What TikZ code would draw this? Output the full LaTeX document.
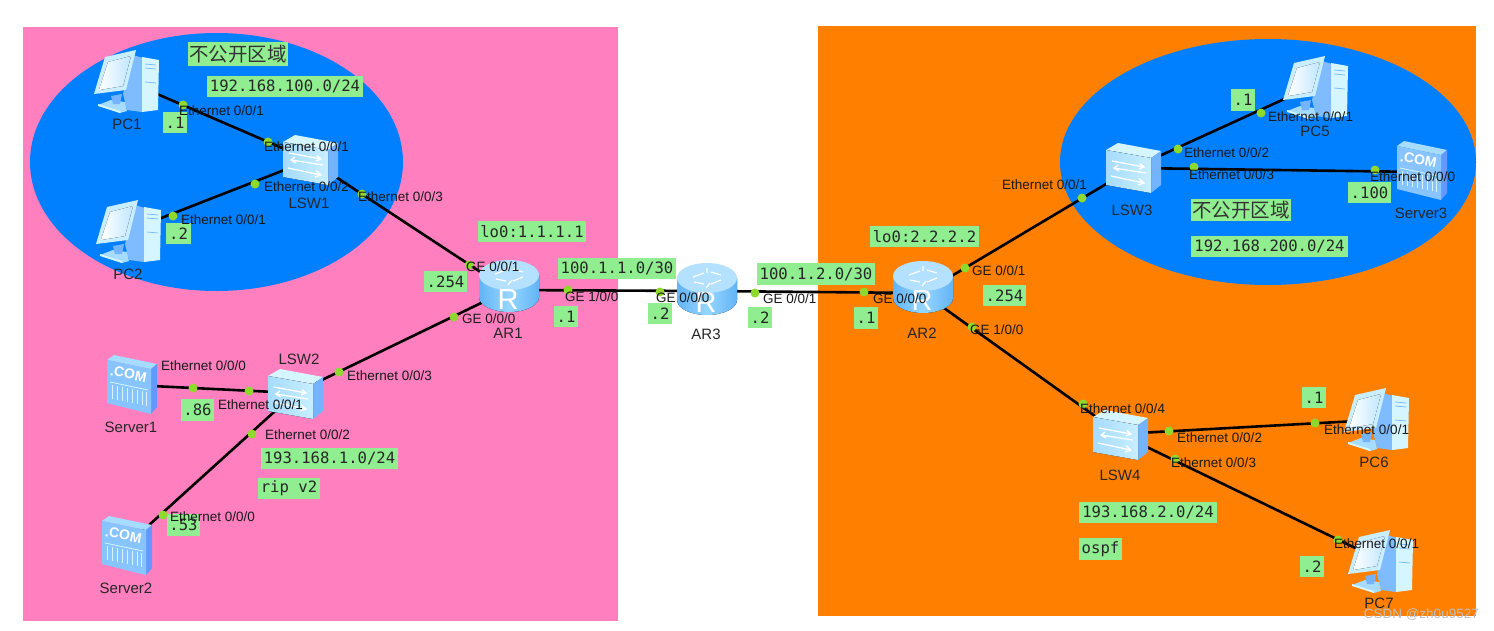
\documentclass[tikz,border=0pt]{standalone}
\usepackage{fontspec}
\usetikzlibrary{shapes.geometric}
\setmainfont{Liberation Sans}
\newfontfamily\monof{DejaVu Sans Mono}
\newfontfamily\cjkf{Noto Sans CJK SC}
\definecolor{pinkbg}{HTML}{FF7FBF}
\definecolor{orangebg}{HTML}{FF8000}
\definecolor{bluezone}{HTML}{0080FF}
\definecolor{tag}{HTML}{90EE90}
\definecolor{portdot}{HTML}{8FD82E}
\definecolor{iconlight}{HTML}{D6F6FF}
\definecolor{iconmid}{HTML}{A6DCFF}
\definecolor{icondark}{HTML}{74B4FF}
\definecolor{routerside}{HTML}{62B4F6}
\definecolor{routermid}{HTML}{96D6FF}
\tikzset{
  x=1pt,y=-1pt,
  anchorbox/.style={inner sep=0pt,minimum size=1pt},
  linkline/.style={draw=black,line width=2.6pt},
  portdotn/.style={circle,fill=portdot,inner sep=0pt,minimum size=9pt},
  portlabel/.style={anchor=west,inner sep=0pt,text=black!90,font=\fontsize{13.5}{16}\selectfont},
  devlabel/.style={inner sep=0pt,text=black!85,font=\fontsize{15}{17}\selectfont},
  tagbox/.style={fill=tag,inner sep=0pt,text=black!85,font=\monof\fontsize{15.6}{18}\selectfont},
  cjktag/.style={fill=tag,inner sep=0pt,text=black!80,font=\cjkf\fontsize{19.5}{22}\selectfont},
  pcicon/.pic={
    \fill[icondark!80!iconmid] (40,5)--(50,8)--(49,62)--(34,60)--(30,44)--cycle;
    \fill[iconlight] (49,7)--(66,10)--(65,60)--(49,62)--cycle;
    \draw[icondark,line width=.7pt] (52,14)--(63,15) (52,18)--(63,19) (52,32)--(63,33);
    \fill[iconmid] (5,55)--(18,50)--(32,52)--(34,61)--(27,63)--cycle;
    \fill[iconlight] (5,54)--(27,61)--(27,63)--(5,56)--cycle;
    \fill[iconlight!70!iconmid] (12,7)--(43,0)--(33,40)--(1,44)--cycle;
    \fill[left color=white,right color=iconmid!70!white] (15,12)--(38,6)--(30,36)--(6,40)--cycle;
    \fill[icondark] (18,46)--(29,44)--(27,54)--(20,54)--cycle;
  },
  swicon/.pic={
    \fill[iconlight] (0,7)--(12,0)--(55,8)--(45,15)--cycle;
    \fill[icondark] (45,15)--(55,8)--(55,42)--(45,50)--cycle;
    \fill[left color=iconmid,right color=iconlight!70!iconmid] (0,7)--(45,15)--(45,50)--(0,42)--cycle;
    \draw[white,line width=1.3pt] (6,18)--(38,24) (34,20.5)--(38,24)--(33,26)
      (40,30)--(8,25) (12,22)--(8,25)--(13,28) (5,33)--(38,40) (33,35.5)--(38,40)--(32,42);
  },
  routericon/.pic={
    \fill[left color=routerside,right color=routerside,middle color=routermid]
      (0,15)--(0,37) arc[start angle=180,end angle=0,x radius=30,y radius=15]--(60,15)--cycle;
    \fill[iconmid!85!white] (30,15) ellipse[x radius=30,y radius=15];
    \draw[white,line width=1.2pt] (16,14)--(27,10) (27,21)--(17,19) (34,9)--(44,12) (44,17)--(34,21)
      (30,5)--(30,10) (29,25)--(33,20);
    \node[inner sep=0pt,text=white,font=\fontsize{29}{30}\selectfont] (-r) at (29,40) {R};
  },
  servericon/.pic={
    \fill[iconmid] (0,5)--(7,0)--(50,9)--(44,14)--cycle;
    \fill[icondark!85!blue] (44,14)--(50,9)--(50,52)--(44,59)--cycle;
    \fill[icondark!60!iconmid] (0,5)--(44,14)--(44,59)--(0,48)--cycle;
    \node[inner sep=0pt,text=white,rotate=-11,font=\bfseries\fontsize{14}{14}\selectfont] (-com) at (21.5,19) {.COM};
    \draw[iconlight,line width=.8pt] (3,27)--(41,35);
    \foreach \q in {5,10,15,20,25,30,35,39}{\draw[iconlight,line width=1pt] (\q,{29+.2*\q})--(\q,{43+.2*\q});}
  }
}
\newcommand{\devnode}[3]{\node[anchorbox] (#1) at (#2,#3) {};}
\newcommand{\pdot}[3]{\node[portdotn] (#1) at (#2,#3) {};}
\newcommand{\ptl}[4]{\node[portlabel] (#1) at (#2,#3) {#4};}
\newcommand{\dvl}[4]{\node[devlabel] (#1) at (#2,#3) {#4};}
\newcommand{\tagn}[6]{\node[tagbox,minimum width={#4-#2},minimum height={#5-#3}] (#1) at ({(#2+#4)/2},{(#3+#5)/2}) {#6};}
\newcommand{\tagc}[6]{\node[cjktag,minimum width={#4-#2},minimum height={#5-#3}] (#1) at ({(#2+#4)/2},{(#3+#5)/2}) {#6};}
\begin{document}
\begin{tikzpicture}
\useasboundingbox (0,0) rectangle (1494,630);
\fill[white] (0,0) rectangle (1494,630);
% zones
\node[fill=pinkbg,inner sep=0pt,minimum width=595pt,minimum height=594pt] (zoneL) at (320.5,324) {};
\node[fill=orangebg,inner sep=0pt,minimum width=658pt,minimum height=590pt] (zoneR) at (1147,321) {};
\node[ellipse,fill=bluezone,inner sep=0pt,minimum width=373pt,minimum height=258pt] (ellL) at (216.5,162) {};
\node[ellipse,fill=bluezone,inner sep=0pt,minimum width=416pt,minimum height=246pt] (ellR) at (1268,162) {};
% green tags
\tagc{t1}{188}{42}{288}{66}{不公开区域}
\tagn{t2}{207}{76}{363}{97}{192.168.100.0/24}
\tagn{t3}{163}{112}{187}{133}{.1}
\tagn{t4}{166}{223}{191}{244}{.2}
\tagn{t5}{478}{221}{586}{242}{lo0:1.1.1.1}
\tagn{t6}{424}{271}{467}{292}{.254}
\tagn{t7}{558}{258}{676}{279}{100.1.1.0/30}
\tagn{t8}{554}{306}{578}{327}{.1}
\tagn{t9}{648}{303}{672}{324}{.2}
\tagn{t10}{757}{263}{875}{285}{100.1.2.0/30}
\tagn{t11}{748}{307}{772}{328}{.2}
\tagn{t12}{854}{307}{878}{329}{.1}
\tagn{t13}{870}{226}{979}{247}{lo0:2.2.2.2}
\tagn{t14}{983}{285}{1026}{306}{.254}
\tagn{t15}{181}{399}{214}{421}{.86}
\tagn{t16}{167}{514}{200}{536}{.53}
\tagn{t17}{261}{448}{398}{469}{193.168.1.0/24}
\tagn{t18}{258}{478}{320}{499}{rip v2}
\tagn{t19}{1231}{89}{1255}{111}{.1}
\tagn{t20}{1348}{182}{1391}{203}{.100}
\tagc{t21}{1191}{199}{1291}{221}{不公开区域}
\tagn{t22}{1191}{236}{1348}{257}{192.168.200.0/24}
\tagn{t23}{1302}{387}{1326}{408}{.1}
\tagn{t24}{1079}{502}{1217}{523}{193.168.2.0/24}
\tagn{t25}{1079}{538}{1122}{560}{ospf}
\tagn{t26}{1300}{556}{1324}{577}{.2}
% device anchors
\devnode{pc1}{127}{81}
\devnode{pc2}{128}{231}
\devnode{lsw1}{310}{160}
\devnode{lsw2}{295}{393}
\devnode{srv1}{132}{385}
\devnode{srv2}{127}{545}
\devnode{ar1}{508}{290}
\devnode{ar3}{707}{291}
\devnode{ar2}{923}{293}
\devnode{lsw3}{1133}{168}
\devnode{pc5}{1315}{85}
\devnode{srv3}{1422}{172}
\devnode{lsw4}{1120}{434}
\devnode{pc6}{1375}{420}
\devnode{pc7}{1380}{560}
% links
\draw[linkline] (pc1.center)--(lsw1.center);
\draw[linkline] (pc2.center)--(lsw1.center);
\draw[linkline] (lsw1.center)--(ar1.center);
\draw[linkline] (lsw2.center)--(ar1.center);
\draw[linkline] (srv1.center)--(lsw2.center);
\draw[linkline] (srv2.center)--(lsw2.center);
\draw[linkline] (ar1.center)--(ar3.center);
\draw[linkline] (ar3.center)--(ar2.center);
\draw[linkline] (ar2.center)--(lsw3.center);
\draw[linkline] (lsw3.center)--(pc5.center);
\draw[linkline] (lsw3.center)--(srv3.center);
\draw[linkline] (ar2.center)--(lsw4.center);
\draw[linkline] (lsw4.center)--(pc6.center);
\draw[linkline] (lsw4.center)--(pc7.center);
% icons
\pic (ipc1) at (93,50) {pcicon};
\pic (ipc2) at (95,200) {pcicon};
\pic (ipc5) at (1282,56) {pcicon};
\pic (ipc6) at (1343,388) {pcicon};
\pic (ipc7) at (1347,530) {pcicon};
\pic (isw1) at (283,135) {swicon};
\pic (isw2) at (268,369) {swicon};
\pic (isw3) at (1106,143) {swicon};
\pic (isw4) at (1093,410) {swicon};
\pic (ir1) at (479,260) {routericon};
\pic (ir3) at (677,263) {routericon};
\pic (ir2) at (893,261) {routericon};
\pic (is1) at (107,355) {servericon};
\pic (is2) at (102,516) {servericon};
\pic (is3) at (1397,141) {servericon};
% port dots
\pdot{d1}{183}{105}\pdot{d2}{268}{142}\pdot{d3}{173}{216}\pdot{d4}{255}{184}
\pdot{d5}{362}{194}\pdot{d6}{469}{265}\pdot{d7}{454}{317}\pdot{d8}{339}{372}
\pdot{d9}{193}{388}\pdot{d10}{249}{391}\pdot{d11}{252}{434}\pdot{d12}{163}{515}
\pdot{d13}{568}{290}\pdot{d14}{660}{292}\pdot{d15}{755}{293}\pdot{d16}{864}{292}
\pdot{d17}{965}{268}\pdot{d18}{1082}{198}\pdot{d19}{1178}{149}\pdot{d20}{1261}{113}
\pdot{d21}{1194}{167}\pdot{d22}{1375}{170}\pdot{d23}{972}{327}\pdot{d24}{1083}{404}
\pdot{d25}{1169}{431}\pdot{d26}{1315}{423}\pdot{d27}{1175}{459}\pdot{d28}{1338}{540}
% port labels
\ptl{p1}{179}{111}{Ethernet 0/0/1}
\ptl{p2}{264}{147}{Ethernet 0/0/1}
\ptl{p3}{264}{187}{Ethernet 0/0/2}
\ptl{p4}{181}{220}{Ethernet 0/0/1}
\ptl{p5}{358}{197}{Ethernet 0/0/3}
\ptl{p6}{466}{267}{GE 0/0/1}
\ptl{p7}{462}{319}{GE 0/0/0}
\ptl{p8}{565}{297}{GE 1/0/0}
\ptl{p9}{656}{298}{GE 0/0/0}
\ptl{p10}{763}{299}{GE 0/0/1}
\ptl{p11}{873}{299}{GE 0/0/0}
\ptl{p12}{972}{271}{GE 0/0/1}
\ptl{p13}{970}{330}{GE 1/0/0}
\ptl{p14}{161}{366}{Ethernet 0/0/0}
\ptl{p15}{218}{405}{Ethernet 0/0/1}
\ptl{p16}{347}{376}{Ethernet 0/0/3}
\ptl{p17}{265}{435}{Ethernet 0/0/2}
\ptl{p18}{170}{517}{Ethernet 0/0/0}
\ptl{p19}{1002}{185}{Ethernet 0/0/1}
\ptl{p20}{1184}{153}{Ethernet 0/0/2}
\ptl{p21}{1189}{175}{Ethernet 0/0/3}
\ptl{p22}{1268}{117}{Ethernet 0/0/1}
\ptl{p23}{1370}{177}{Ethernet 0/0/0}
\ptl{p24}{1080}{409}{Ethernet 0/0/4}
\ptl{p25}{1177}{438}{Ethernet 0/0/2}
\ptl{p26}{1171}{463}{Ethernet 0/0/3}
\ptl{p27}{1324}{430}{Ethernet 0/0/1}
\ptl{p28}{1334}{544}{Ethernet 0/0/1}
% device labels
\dvl{n1}{127}{124}{PC1}
\dvl{n2}{128}{274}{PC2}
\dvl{n3}{309}{203}{LSW1}
\dvl{n4}{299}{359}{LSW2}
\dvl{n5}{131}{427}{Server1}
\dvl{n6}{126}{588}{Server2}
\dvl{n7}{508}{333}{AR1}
\dvl{n8}{706}{334}{AR3}
\dvl{n9}{922}{333}{AR2}
\dvl{n10}{1132}{210}{LSW3}
\dvl{n11}{1315}{131}{PC5}
\dvl{n12}{1421}{213}{Server3}
\dvl{n13}{1120}{475}{LSW4}
\dvl{n14}{1374}{462}{PC6}
\dvl{n15}{1379}{603}{PC7}
% watermark
\node[anchor=east,inner sep=0pt,text=black!25,font=\fontsize{13.5}{16}\selectfont] (wm) at (1479,615) {CSDN @zh0u9527};
\end{tikzpicture}
\end{document}
